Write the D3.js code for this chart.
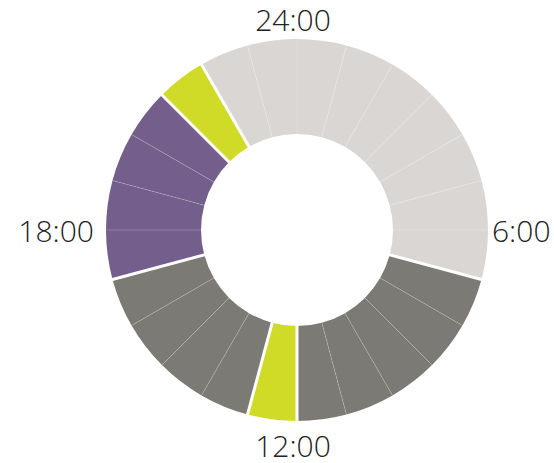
<!DOCTYPE html>
<html>
<head>
<meta charset="utf-8">
<style>
  body { margin: 0; background: #fff; }
  svg text { font-family: "Open Sans", "Roboto", sans-serif; font-weight: 300; fill: #222; }
</style>
<title>Day</title>
</head>
<body>
<script src="https://cdn.jsdelivr.net/npm/d3@7"></script>
<script>

// activity for each hour of the day, 0:00 .. 23:00
var hourActivity = [
  "sleep", "sleep", "sleep", "sleep", "sleep", "sleep", "sleep",
  "work", "work", "work", "work", "work",
  "meal",
  "work", "work", "work", "work",
  "leisure", "leisure", "leisure", "leisure",
  "meal",
  "sleep", "sleep"
];
var categories = ["sleep", "work", "meal", "leisure"];
var tickHours = [0, 6, 12, 18];
var tickLabels = ["24:00", "6:00", "12:00", "18:00"];

var width = 554, height = 463,
    cx = 297, cy = 230,
    outer = 191, inner = 96;

var color = d3.scaleOrdinal()
    .domain(categories)
    .range(["#d9d6d3", "#7b7a74", "#cfdb27", "#745e8b"]);

var angle = d3.scaleLinear().domain([0, 24]).range([0, 2 * Math.PI]);

var arc = d3.arc().innerRadius(inner).outerRadius(outer);

var svg = d3.select("body").append("svg")
    .attr("width", width)
    .attr("height", height);

var g = svg.append("g").attr("transform", "translate(" + cx + "," + cy + ")");

// hour segments
g.selectAll("path.hour")
    .data(hourActivity)
  .enter().append("path")
    .attr("class", "hour")
    .attr("d", function(d, i) { return arc({startAngle: angle(i), endAngle: angle(i + 1)}); })
    .attr("fill", function(d) { return color(d); });

// thin hour dividers
g.selectAll("line.div")
    .data(hourActivity)
  .enter().append("line")
    .attr("class", "div")
    .attr("x1", function(d, i) { return Math.sin(angle(i)) * inner; })
    .attr("y1", function(d, i) { return -Math.cos(angle(i)) * inner; })
    .attr("x2", function(d, i) { return Math.sin(angle(i)) * outer; })
    .attr("y2", function(d, i) { return -Math.cos(angle(i)) * outer; })
    .attr("stroke", "#fff")
    .attr("stroke-opacity", 0.3)
    .attr("stroke-width", 0.7);

// white gaps between activity groups
var breaks = hourActivity
    .map(function(d, i) { return i; })
    .filter(function(i) { return hourActivity[i] !== hourActivity[(i + 23) % 24]; });

g.selectAll("line.gap")
    .data(breaks)
  .enter().append("line")
    .attr("class", "gap")
    .attr("x1", function(i) { return Math.sin(angle(i)) * (inner - 2); })
    .attr("y1", function(i) { return -Math.cos(angle(i)) * (inner - 2); })
    .attr("x2", function(i) { return Math.sin(angle(i)) * (outer + 2); })
    .attr("y2", function(i) { return -Math.cos(angle(i)) * (outer + 2); })
    .attr("stroke", "#fff")
    .attr("stroke-width", 3);

// hour labels
var labelR = 199;
g.selectAll("text.tick")
    .data(tickHours)
  .enter().append("text")
    .attr("class", "tick")
    .attr("x", function(h) { return Math.sin(angle(h)) * labelR - 4; })
    .attr("y", function(h) {
      var c = Math.cos(angle(h));
      return -c * labelR + (c < -0.5 ? 28 : c > 0.5 ? 0 : 12);
    })
    .attr("text-anchor", function(h) {
      var s = Math.sin(angle(h));
      return s > 0.5 ? "start" : s < -0.5 ? "end" : "middle";
    })
    .style("font-size", "30px")
    .text(function(h, i) { return tickLabels[i]; });

</script>
</body>
</html>
